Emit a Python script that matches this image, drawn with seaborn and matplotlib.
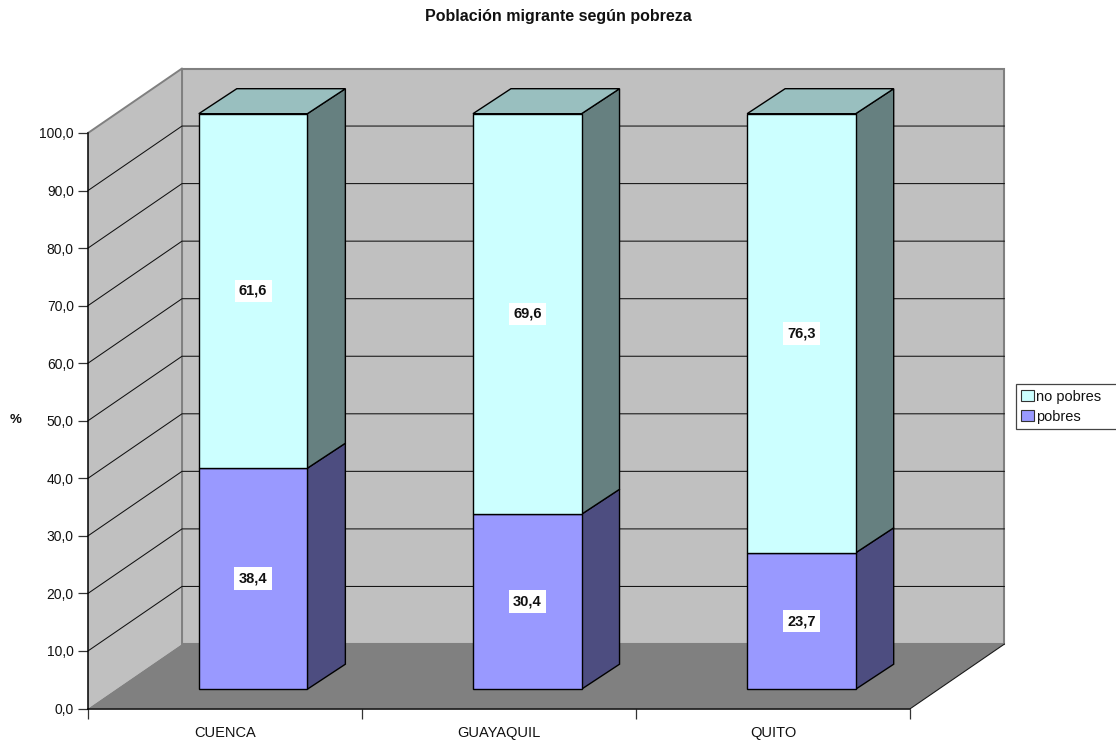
import pandas as pd
import matplotlib
matplotlib.use('Agg')
import matplotlib.pyplot as plt
from matplotlib.patches import Patch, Polygon
from matplotlib.transforms import Affine2D, IdentityTransform
import seaborn as sns

ciudades = ['CUENCA', 'GUAYAQUIL', 'QUITO']
pobres = [38.4, 30.4, 23.7]
no_pobres = [61.6, 69.6, 76.3]
y_ticks = [0, 10, 20, 30, 40, 50, 60, 70, 80, 90, 100]
y_labels = ['0,0', '10,0', '20,0', '30,0', '40,0', '50,0', '60,0', '70,0', '80,0', '90,0', '100,0']

df = pd.DataFrame({'ciudad': ciudades, 'pobres': pobres, 'no_pobres': no_pobres})

sns.set_style('white')
plt.rcParams['font.family'] = ['Liberation Sans', 'DejaVu Sans']

W, H = 1116, 740
fig = plt.figure(figsize=(W / 100, H / 100), dpi=100)
# front plane of the fake 3D box, in pixels of the image
left, right, y0, y100 = 88, 910.5, 708.5, 133
ax = fig.add_axes([left / W, (H - y0) / H, (right - left) / W, (y0 - y100) / H])
ax.set_facecolor('none')

# depth of the box and of the bars, in pixels
box_dx, box_dy = 94, 64.5
bar_x, bar_y = 28, 19.3
bar_dx, bar_dy = 38, 25
bar_w = 0.396

shift = ax.transData + Affine2D().translate(bar_x, bar_y)

sns.barplot(data=df, x='ciudad', y='pobres', color='#9999FF', saturation=1, width=bar_w,
            edgecolor='black', linewidth=1, errorbar=None, ax=ax, zorder=4)
sns.barplot(data=df, x='ciudad', y='no_pobres', color='#CCFFFF', saturation=1, width=bar_w,
            bottom=pobres, edgecolor='black', linewidth=1, errorbar=None, ax=ax, zorder=4)
for p in ax.patches:
    p.set_transform(shift)
    p.set_clip_on(False)

ax.set_xlim(-0.5, 2.5)
ax.set_ylim(0, 100)


def px(x, y):
    return tuple(ax.transData.transform((x, y)))


def poly(points, face, edge='none', lw=0, z=1):
    ax.add_patch(Polygon(points, closed=True, facecolor=face, edgecolor=edge, linewidth=lw,
                         transform=IdentityTransform(), clip_on=False, zorder=z))


# walls and floor
x_a, y_a = px(-0.5, 0)
x_b, _ = px(2.5, 0)
_, y_t = px(-0.5, 100)
poly([(x_a + box_dx, y_a + box_dy), (x_b + box_dx, y_a + box_dy),
      (x_b + box_dx, y_t + box_dy), (x_a + box_dx, y_t + box_dy)], '#C0C0C0', '#808080', 1.5)
poly([(x_a, y_a), (x_a + box_dx, y_a + box_dy), (x_a + box_dx, y_t + box_dy), (x_a, y_t)], '#C0C0C0')
ax.plot([x_a, x_a + box_dx, x_a + box_dx], [y_t, y_t + box_dy, y_a + box_dy], color='#808080', lw=1.4,
        transform=IdentityTransform(), clip_on=False, zorder=1.5)
poly([(x_a, y_a), (x_b, y_a), (x_b + box_dx, y_a + box_dy), (x_a + box_dx, y_a + box_dy)], '#808080', z=1.2)
ax.plot([x_b, x_b + box_dx], [y_a, y_a + box_dy], color='#1a1a1a', lw=0.8,
        transform=IdentityTransform(), clip_on=False, zorder=1.5)

# grid lines go along the side wall and then the back wall
for t in y_ticks[1:-1]:
    _, yy = px(0, t)
    ax.plot([x_a, x_a + box_dx, x_b + box_dx], [yy, yy + box_dy, yy + box_dy], color='#111111', lw=0.75,
            transform=IdentityTransform(), clip_on=False, zorder=1.6)

# side and top faces of the bars
for i in range(3):
    x1 = i + bar_w / 2
    x2 = i - bar_w / 2
    xr, yb = px(x1, 0)
    xl, _ = px(x2, 0)
    _, ym = px(x1, pobres[i])
    _, yt = px(x1, pobres[i] + no_pobres[i])
    xr, xl = xr + bar_x, xl + bar_x
    yb, ym, yt = yb + bar_y, ym + bar_y, yt + bar_y
    poly([(xr, yb), (xr + bar_dx, yb + bar_dy), (xr + bar_dx, ym + bar_dy), (xr, ym)], '#4D4D80', 'black', 1, 3)
    poly([(xr, ym), (xr + bar_dx, ym + bar_dy), (xr + bar_dx, yt + bar_dy), (xr, yt)], '#668080', 'black', 1, 3)
    poly([(xl, yt), (xr, yt), (xr + bar_dx, yt + bar_dy), (xl + bar_dx, yt + bar_dy)], '#99BFBF', 'black', 1, 3)

    for val, mid in [(pobres[i], pobres[i] / 2), (no_pobres[i], pobres[i] + no_pobres[i] / 2)]:
        ax.text(i, mid, f'{val:.1f}'.replace('.', ','), transform=shift, ha='center', va='center',
                fontsize=10.5, fontweight='bold', color='#111111', zorder=6,
                bbox=dict(facecolor='white', edgecolor='none', pad=3.2))

# axes
sns.despine(ax=ax, top=True, right=True)
for s in ['left', 'bottom']:
    ax.spines[s].set_color('black')
    ax.spines[s].set_linewidth(1.1)
ax.set_yticks(y_ticks)
ax.set_yticklabels(y_labels, fontsize=10, color='#111111')
ax.set_xticks(range(3))
ax.set_xticklabels(ciudades, fontsize=10.5, color='#111111')
ax.set_xticks([-0.5, 0.5, 1.5, 2.5], minor=True)
ax.tick_params(axis='y', left=True, length=7.2, width=0.9, color='#333333', pad=3)
ax.tick_params(axis='x', which='major', bottom=False, length=0, pad=12.5)
ax.tick_params(axis='x', which='minor', bottom=True, length=7.2, width=0.9, color='#333333')
ax.set_xlabel('')
ax.set_ylabel('%', rotation=0, fontsize=9.5, fontweight='bold', color='#111111', ha='center', va='center')
ax.yaxis.set_label_coords((16 - left) / (right - left), (y0 - 420) / (y0 - y100))

fig.text(558 / W, 1 - 16 / H, 'Población migrante según pobreza', ha='center', va='center',
         fontsize=11.5, fontweight='bold', color='#111111')

handles = [Patch(facecolor='#CCFFFF', edgecolor='#333333', linewidth=0.8, label='no pobres'),
           Patch(facecolor='#9999FF', edgecolor='#333333', linewidth=0.8, label='pobres')]
leg = fig.legend(handles=handles, loc='upper left', bbox_to_anchor=(1016 / W, 1 - 429.5 / H, 130 / W, 45 / H),
                 mode='expand', borderaxespad=0, fontsize=10.5, frameon=True, fancybox=False, edgecolor='#444444',
                 facecolor='white', framealpha=1, handlelength=0.85, handleheight=0.85, handletextpad=0.2,
                 labelspacing=0.42, borderpad=0.35, labelcolor='#111111')
leg.get_frame().set_linewidth(0.9)

fig.savefig('out.png', dpi=100)
plt.close(fig)
